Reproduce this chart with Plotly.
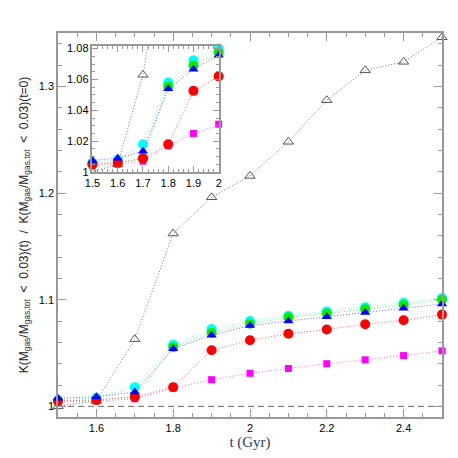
import plotly.graph_objects as go

t_gyr = [1.5, 1.6, 1.7, 1.8, 1.9, 2.0, 2.1, 2.2, 2.3, 2.4, 2.5]

k_open = [1.000, 1.005, 1.063, 1.162, 1.196, 1.216, 1.248, 1.287, 1.315, 1.323, 1.346]
k_magenta = [1.004, 1.005, 1.007, 1.017, 1.025, 1.031, 1.0355, 1.040, 1.0436, 1.0476, 1.052]
k_cyan = [1.006, 1.008, 1.018, 1.058, 1.0725, 1.080, 1.085, 1.089, 1.093, 1.097, 1.1015]
k_green = [1.005, 1.006, 1.009, 1.0555, 1.069, 1.0775, 1.0835, 1.087, 1.091, 1.095, 1.100]
k_red = [1.005, 1.006, 1.0087, 1.018, 1.0526, 1.062, 1.068, 1.072, 1.077, 1.0807, 1.086]
k_blue = [1.0075, 1.009, 1.0134, 1.054, 1.0666, 1.0757, 1.080, 1.084, 1.088, 1.092, 1.096]

series = [
    (k_open, "#555555", "#777777", "triangle-up-open", 9),
    (k_magenta, "#ff00ff", "#ff66ff", "square", 7),
    (k_cyan, "#00ffff", "#66ffff", "circle", 10),
    (k_green, "#00ee00", "#66ee66", "circle", 10),
    (k_red, "#ff0000", "#ff6666", "circle", 10),
    (k_blue, "#0000ff", "#6666ff", "triangle-up", 9),
]

fig = go.Figure()

fig.add_trace(go.Scatter(
    x=[1.5, 2.5], y=[1.0, 1.0], mode="lines",
    line=dict(color="#666666", width=1, dash="6px,4px"), showlegend=False,
))

for xa, ya in [("x", "y"), ("x2", "y2")]:
    for vals, mcol, lcol, sym, sz in series:
        is_open = sym.endswith("open")
        fig.add_trace(go.Scatter(
            x=t_gyr, y=vals, xaxis=xa, yaxis=ya, mode="lines+markers",
            line=dict(color=lcol, width=1, dash="1px,2px"),
            marker=dict(color=mcol, symbol=sym, size=sz,
                        line=dict(width=1 if is_open else 0, color=mcol)),
            showlegend=False,
            # the open-triangle run leaves the inset, so keep it clipped there
            cliponaxis=(xa == "x2" and is_open),
        ))

axis_style = dict(
    showgrid=False, zeroline=False, showline=True, linecolor="#999999",
    linewidth=1.5, mirror="allticks", ticks="inside", tickcolor="#999999",
    tickfont=dict(family="Liberation Sans", size=11, color="black"),
)

y_title = ("K(M<sub>gas</sub>/M<sub>gas,tot</sub>  &lt;  0.03)(t)  /  "
           "K(M<sub>gas</sub>/M<sub>gas,tot</sub>  &lt;  0.03)(t=0)")

fig.update_layout(
    width=458, height=458,
    margin=dict(l=50, r=24, t=25, b=49),
    paper_bgcolor="white", plot_bgcolor="white",
    xaxis=dict(range=[1.5, 2.5], tickvals=[1.6, 1.8, 2.0, 2.2, 2.4],
               ticktext=["1.6", "1.8", "2", "2.2", "2.4"], ticklen=8,
               minor=dict(dtick=0.05, ticklen=4, ticks="inside", tickcolor="#999999"),
               title=dict(text="t (Gyr)", font=dict(family="Liberation Serif", size=15),
                          standoff=3),
               **axis_style),
    yaxis=dict(range=[0.99, 1.35], tickvals=[1.0, 1.1, 1.2, 1.3],
               ticktext=["1", "1.1", "1.2", "1.3"], ticklen=8,
               minor=dict(dtick=0.02, ticklen=4, ticks="inside", tickcolor="#999999"),
               title=dict(text=y_title,
                          font=dict(family="Liberation Sans", size=12, color="#222222"),
                          standoff=8),
               **axis_style),
    xaxis2=dict(domain=[0.0898, 0.4185], anchor="y2", range=[1.5, 2.0],
                tickvals=[1.5, 1.6, 1.7, 1.8, 1.9, 2.0],
                ticktext=["1.5", "1.6", "1.7", "1.8", "1.9", "2"], ticklen=6,
                minor=dict(dtick=0.02, ticklen=3, ticks="inside", tickcolor="#999999"),
                **axis_style),
    yaxis2=dict(domain=[0.638, 0.9654], anchor="x2", range=[1.0, 1.0815],
                tickvals=[1.0, 1.02, 1.04, 1.06, 1.08],
                ticktext=["1", "1.02", "1.04", "1.06", "1.08"], ticklen=6,
                minor=dict(dtick=0.005, ticklen=3, ticks="inside", tickcolor="#999999"),
                **axis_style),
)

fig.write_html("out.html")
